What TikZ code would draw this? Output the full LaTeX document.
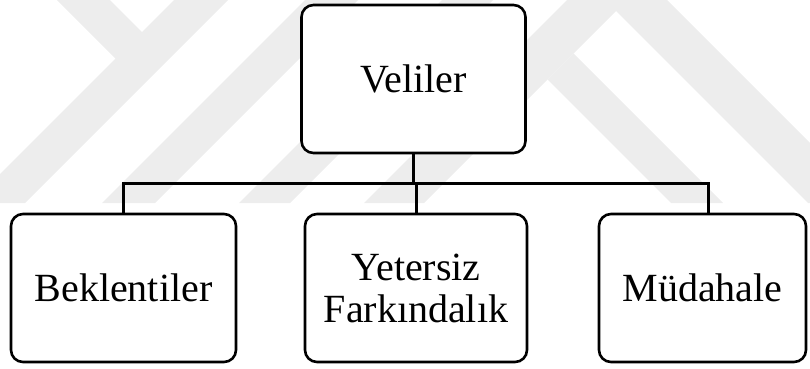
\documentclass[tikz,border=0pt]{standalone}
\usepackage{fontspec}
\setmainfont{Liberation Serif}
\begin{document}
\begin{tikzpicture}[x=1pt,y=-1pt,
  box/.style={draw=black, line width=2.6pt, fill=white, rounded corners=12pt,
    inner sep=0pt, align=center, font=\fontsize{40}{42}\selectfont},
  conn/.style={draw=black, line width=3pt},
  emblem/.style={fill=black!7, draw=none}]
\useasboundingbox (0,0) rectangle (810,368);
% faint background emblem
\begin{scope}
\clip (0,0) rectangle (810,368);
\fill[emblem] (57,0) -- (110,0) -- (142,32) -- (174,0) -- (228,0) -- (25,203)
  -- (-29,203) -- (115.5,58.5) -- cycle;
\fill[emblem] (305,0) -- (358,0) -- (155,203) -- (102,203) -- cycle;
\fill[emblem] (442,0) -- (493,0) -- (290,203) -- (239,203) -- cycle;
\fill[emblem] (364,203) -- (617,-50) -- (870,203) -- (808,203) -- (616,11)
  -- (424,203) -- cycle;
\fill[emblem] (547.5,79.5) -- (573.5,53.5) -- (723,203) -- (671,203) -- cycle;
\end{scope}
% boxes
\node[box, minimum width=224pt, minimum height=148pt] (top) at (413.5,79) {Veliler};
\node[box, minimum width=225pt, minimum height=148pt] (left) at (123.5,288) {Beklentiler};
\node[box, minimum width=222pt, minimum height=148pt] (mid) at (416,288) {Yetersiz\\Farkındalık};
\node[box, minimum width=207pt, minimum height=148pt] (right) at (702.5,288) {Müdahale};
% connectors
\coordinate (bar) at (0,183);
\draw[conn] (top.south) -- (top.south |- bar);
\draw[conn] (left.north) |- (top.south |- bar) -| ([xshift=5.5pt]right.north);
\draw[conn] (mid.north |- bar) -- (mid.north);
\end{tikzpicture}
\end{document}
